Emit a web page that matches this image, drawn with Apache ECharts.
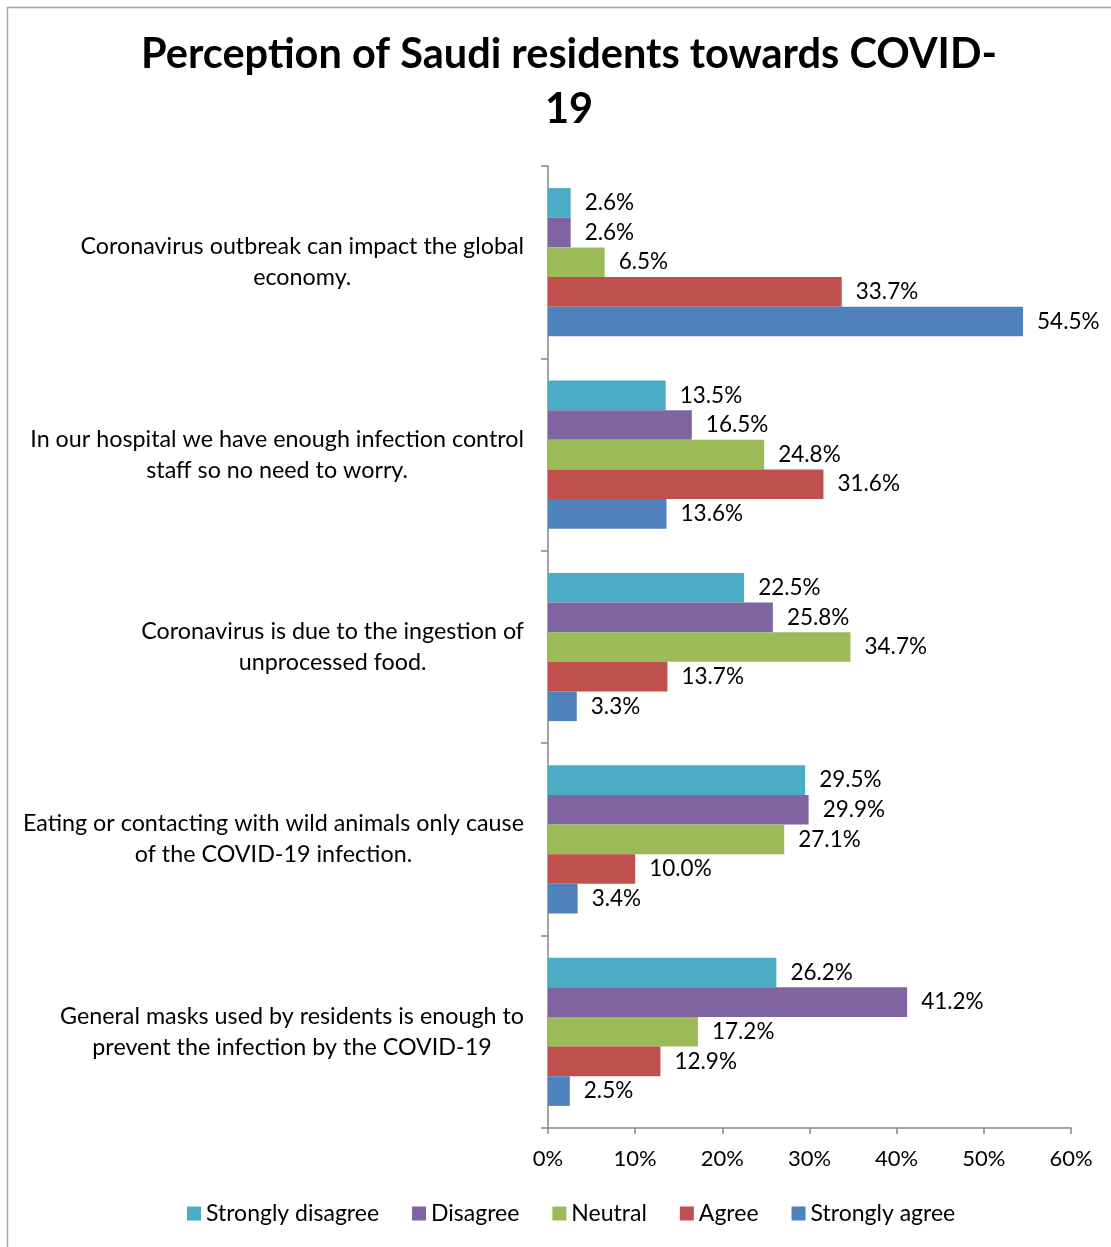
<!DOCTYPE html>
<html>
<head>
<meta charset="utf-8">
<script src="https://cdn.jsdelivr.net/npm/echarts@6/dist/echarts.min.js"></script>
<style>
html,body{margin:0;padding:0;background:#fff;}
#main{width:1111px;height:1247px;}
</style>
</head>
<body>
<div id="main"></div>
<script>
// categories, top to bottom
var categories = [
    "Coronavirus outbreak can impact the global\neconomy.",
    "In our hospital we have enough infection control\nstaff so no need to worry.",
    "Coronavirus is due to the ingestion of\nunprocessed food.",
    "Eating or contacting with wild animals only cause\nof the COVID-19 infection.",
    "General masks used by residents is enough to\nprevent the infection by the COVID-19"
];
var legendNames = ["Strongly disagree", "Disagree", "Neutral", "Agree", "Strongly agree"];
var stronglyDisagree = [2.6, 13.5, 22.5, 29.5, 26.2];
var disagree = [2.6, 16.5, 25.8, 29.9, 41.2];
var neutral = [6.5, 24.8, 34.7, 27.1, 17.2];
var agree = [33.7, 31.6, 13.7, 10.0, 12.9];
var stronglyAgree = [54.5, 13.6, 3.3, 3.4, 2.5];
var xTicks = [0, 10, 20, 30, 40, 50, 60];

var colors = ["#4BACC6", "#8064A2", "#9BBB59", "#C0504D", "#4F81BD"];
var font = "Lato";

function makeSeries(name, data, color){
    return {
        name: name,
        type: "bar",
        data: data,
        barGap: "0%",
        barCategoryGap: "23%",
        itemStyle: {color: color},
        label: {
            show: true,
            position: "right",
            distance: 14,
            fontFamily: font,
            fontSize: 22.5,
            color: "#000",
            formatter: function(p){ return p.value.toFixed(1) + "%"; }
        }
    };
}

var myChart = echarts.init(document.getElementById("main"));
var option = {
    backgroundColor: "#fff",
    animation: false,
    title: {
        text: "Perception of Saudi residents towards COVID-\n19",
        left: 564,
        textAlign: "center",
        top: 22,
        textStyle: {fontFamily: font, fontSize: 41.5, fontWeight: "bold", color: "#000", lineHeight: 55}
    },
    graphic: [{
        type: "rect",
        shape: {x: 7.5, y: 7.5, width: 1200, height: 1300},
        style: {fill: "none", stroke: "#a6a6a6", lineWidth: 1.5},
        silent: true
    }],
    legend: {
        data: legendNames,
        bottom: 17,
        left: 182,
        itemWidth: 14,
        itemHeight: 14,
        itemGap: 33,
        icon: "rect",
        textStyle: {fontFamily: font, fontSize: 23, color: "#000"}
    },
    grid: {left: 548, right: 40, top: 166, bottom: 119},
    xAxis: {
        type: "value",
        min: xTicks[0],
        max: xTicks[xTicks.length - 1],
        interval: 10,
        splitLine: {show: false},
        axisLine: {show: true, lineStyle: {color: "#868686", width: 1.5}},
        axisTick: {show: true, length: 6, lineStyle: {color: "#868686", width: 1.5}},
        axisLabel: {fontFamily: font, fontSize: 22, color: "#000", margin: 20, formatter: "{value}%"}
    },
    yAxis: {
        type: "category",
        inverse: true,
        data: categories,
        axisLine: {show: true, lineStyle: {color: "#868686", width: 1.5}},
        axisTick: {show: true, length: 7, lineStyle: {color: "#868686", width: 1.5}},
        axisLabel: {
            margin: 24,
            align: "right",
            formatter: function(v){ return "{c|" + v.split("\n").join("}\n{c|") + "}"; },
            rich: {
                c: {fontFamily: font, fontSize: 23.3, color: "#000", align: "center", lineHeight: 31}
            }
        }
    },
    series: [
        makeSeries(legendNames[0], stronglyDisagree, colors[0]),
        makeSeries(legendNames[1], disagree, colors[1]),
        makeSeries(legendNames[2], neutral, colors[2]),
        makeSeries(legendNames[3], agree, colors[3]),
        makeSeries(legendNames[4], stronglyAgree, colors[4])
    ]
};
myChart.setOption(option);
window.onresize = myChart.resize;
</script>
</body>
</html>
